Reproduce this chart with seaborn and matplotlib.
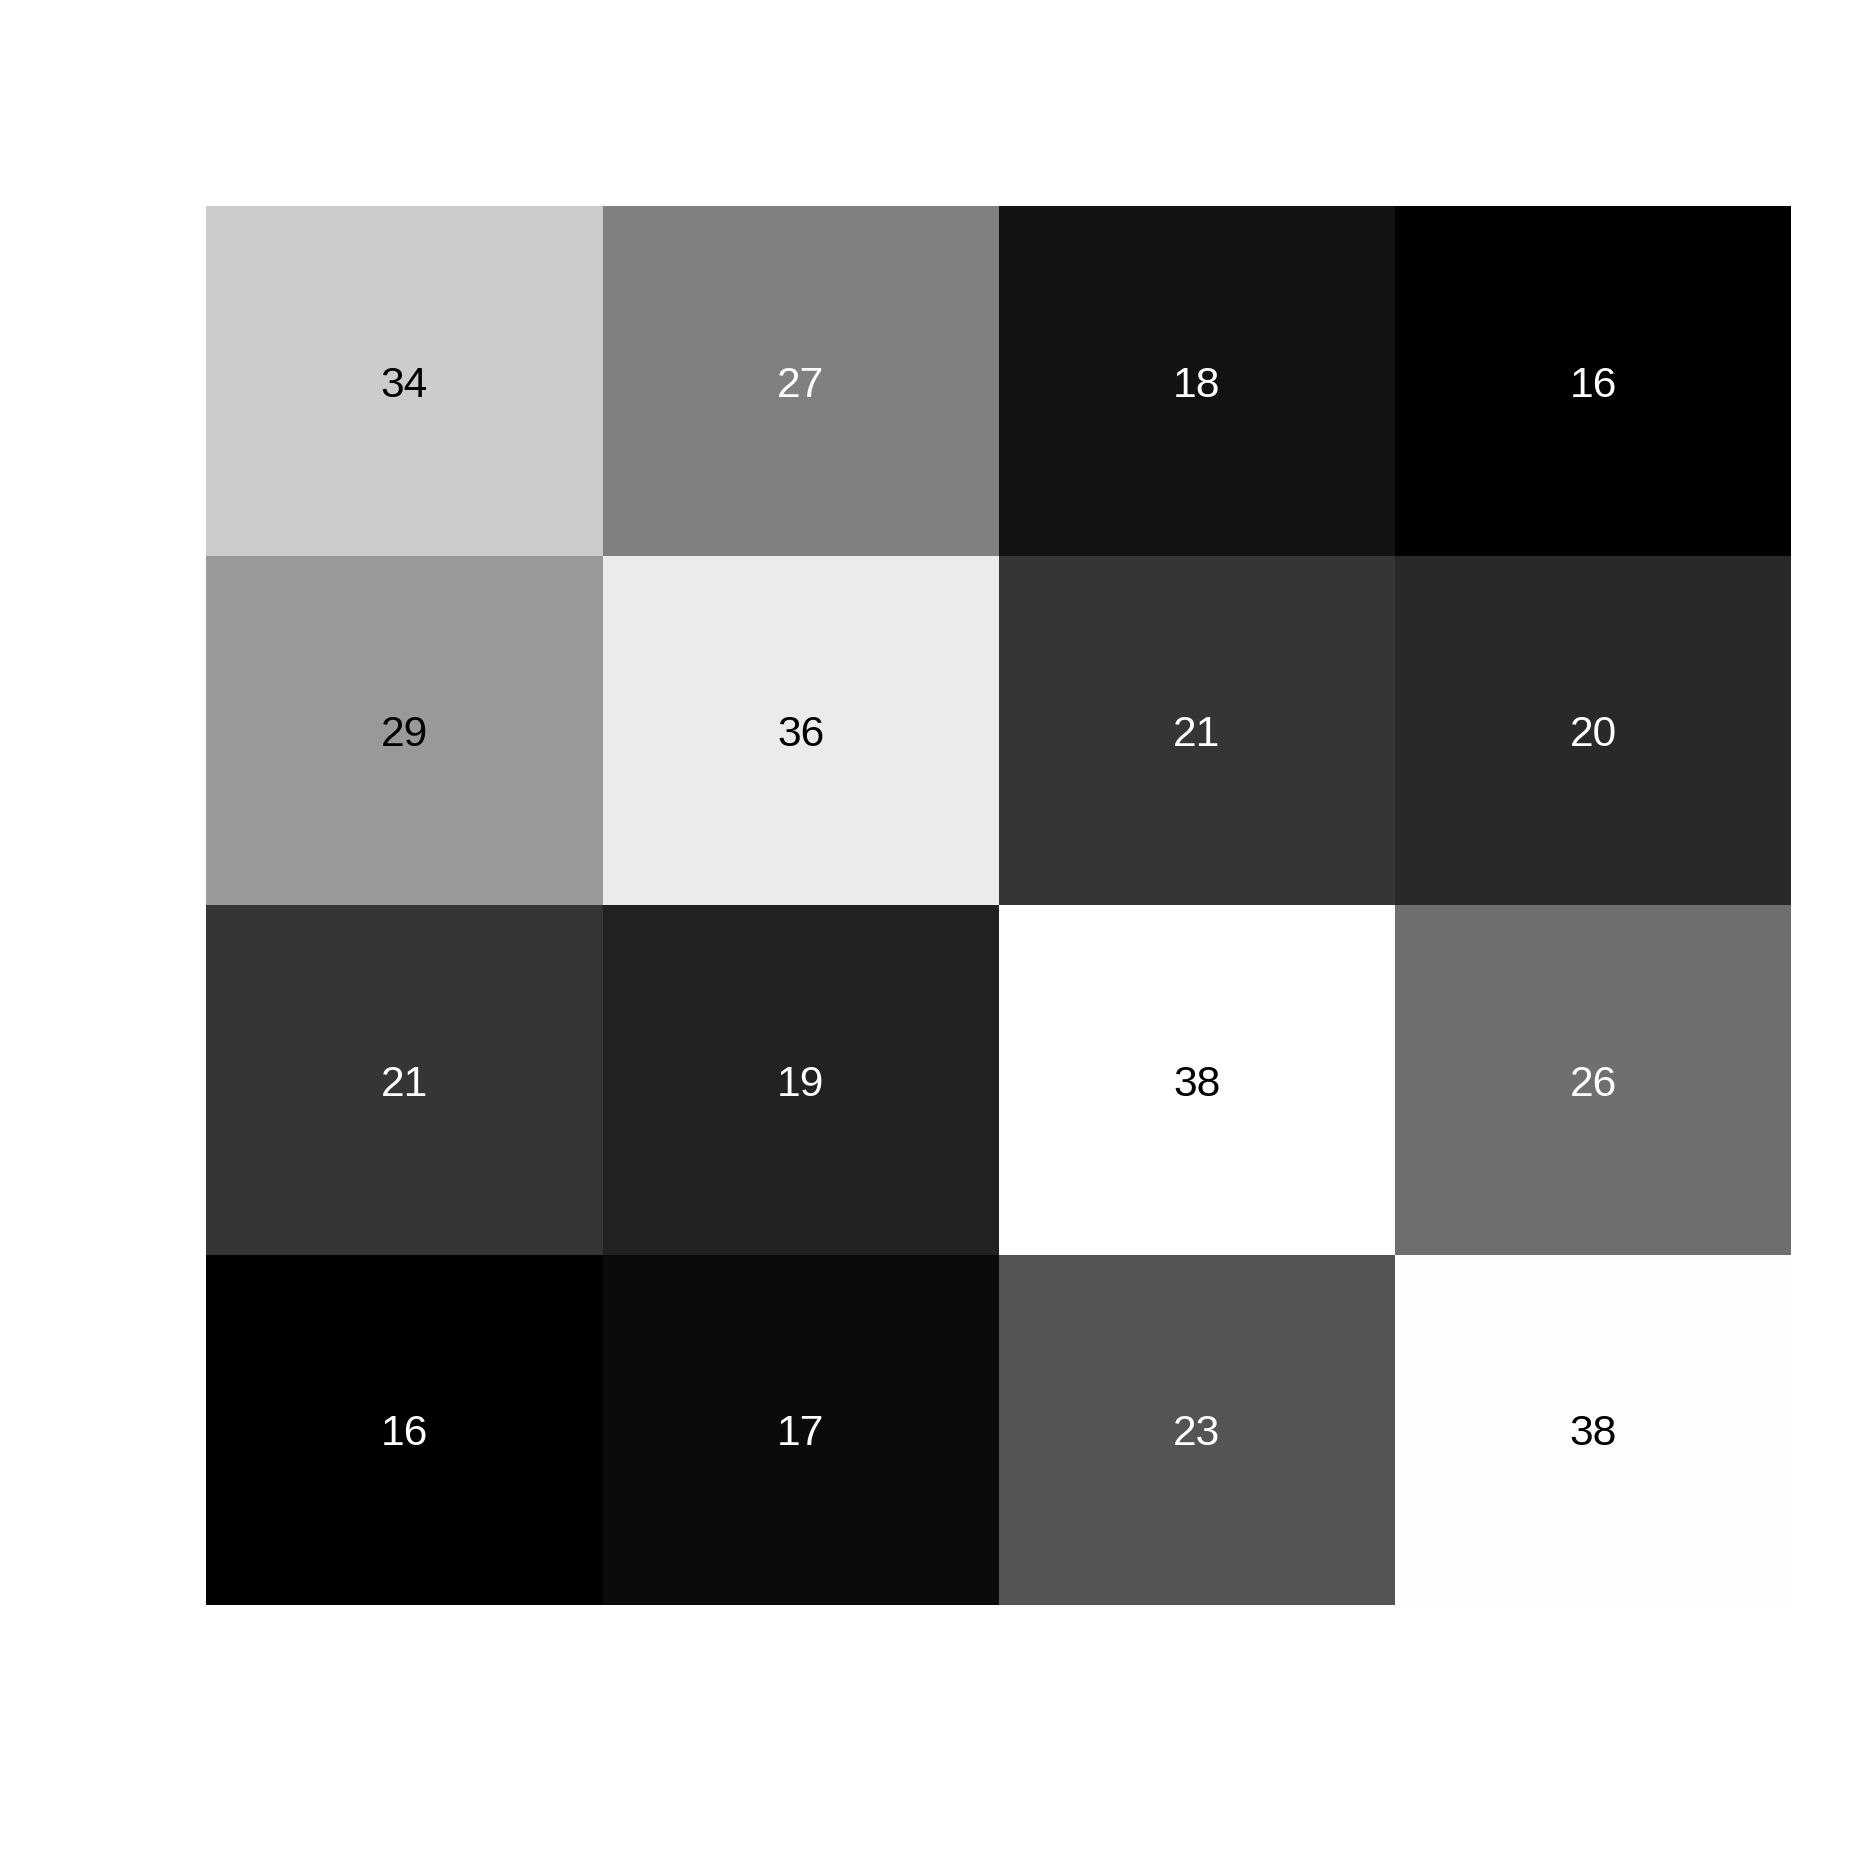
import numpy as np
import matplotlib
matplotlib.use('Agg')
import matplotlib.pyplot as plt
import seaborn as sns

# --- datos (filas de arriba a abajo) ---
fila_1 = [33.6, 27.0, 17.6, 16.0]
fila_2 = [29.2, 36.2, 20.6, 19.6]
fila_3 = [20.6, 19.0, 38.0, 25.6]
fila_4 = [16.0, 17.0, 23.3, 37.9]

valores = np.array([fila_1, fila_2, fila_3, fila_4])

sns.set_style('white')
plt.rcParams['font.family'] = ['Liberation Sans', 'DejaVu Sans']

fig = plt.figure(figsize=(9.335, 9.335), dpi=200)
ax = fig.add_axes([0.1105, 0.1405, 0.849, 0.749])

sns.heatmap(valores, cmap='gray', vmin=16, vmax=38, annot=True, fmt='.0f',
            annot_kws={'fontsize': 15.3, 'va': 'center_baseline'}, cbar=False,
            xticklabels=False, yticklabels=False, ax=ax)

# color del texto: negro en celdas claras, blanco en oscuras
for txt, v in zip(ax.texts, valores.flatten()):
    txt.set_color('black' if v >= 28 else 'white')

for s in ax.spines.values():
    s.set_visible(False)

plt.savefig('out.png', dpi=200, facecolor='white')
